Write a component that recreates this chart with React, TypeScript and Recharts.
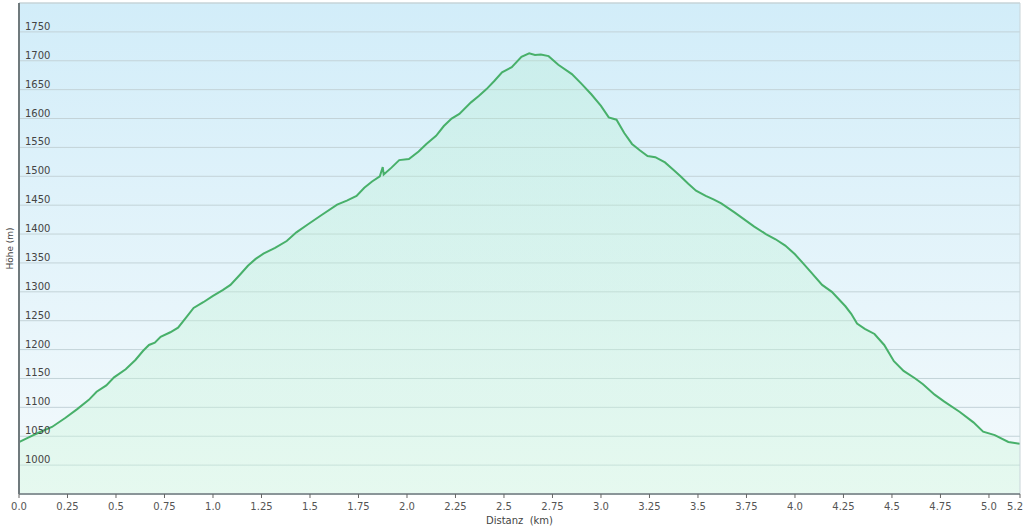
import { AreaChart, Area, XAxis, YAxis, CartesianGrid, ReferenceLine, Label } from 'recharts'

// distance (km) and altitude (m)
const distanceKm = [
  0.0, 0.05, 0.1, 0.17, 0.24, 0.3, 0.36, 0.4, 0.45, 0.49, 0.55, 0.6, 0.64, 0.67, 0.7, 0.73, 0.78, 0.82,
  0.86, 0.9, 0.95, 1.0, 1.05, 1.09, 1.14, 1.18, 1.22, 1.26, 1.32, 1.38, 1.43, 1.49, 1.56, 1.64, 1.69,
  1.74, 1.78, 1.82, 1.86, 1.875, 1.88, 1.92, 1.96, 2.01, 2.06, 2.1, 2.15, 2.19, 2.23, 2.27, 2.33, 2.37,
  2.41, 2.45, 2.49, 2.54, 2.59, 2.63, 2.66, 2.69, 2.73, 2.78, 2.85, 2.9, 2.95, 3.0, 3.04, 3.08, 3.12,
  3.16, 3.2, 3.24, 3.28, 3.33, 3.37, 3.41, 3.45, 3.49, 3.54, 3.58, 3.62, 3.69, 3.79, 3.85, 3.9, 3.95,
  4.0, 4.04, 4.08, 4.14, 4.19, 4.26, 4.29, 4.32, 4.36, 4.41, 4.46, 4.51, 4.56, 4.62, 4.66, 4.72, 4.77,
  4.85, 4.92, 4.97, 5.03, 5.1, 5.16,
]
const altitudeM = [
  1040, 1048, 1056, 1066, 1082, 1097, 1113, 1127, 1138, 1152, 1166, 1182, 1198, 1208, 1212, 1222, 1230, 1238,
  1255, 1272, 1282, 1293, 1303, 1312, 1330, 1345, 1357, 1366, 1376, 1388, 1403, 1417, 1433, 1451, 1458,
  1466, 1480, 1491, 1500, 1516, 1503, 1515, 1528, 1530, 1543, 1556, 1570, 1587, 1600, 1608, 1628, 1639,
  1651, 1665, 1680, 1689, 1707, 1713, 1710, 1711, 1708, 1693, 1677, 1660, 1642, 1622, 1602, 1598, 1575,
  1556, 1545, 1535, 1533, 1524, 1512, 1500, 1487, 1475, 1466, 1460, 1453, 1437, 1413, 1400, 1391, 1380,
  1365, 1350, 1335, 1312, 1300, 1275, 1262, 1245, 1236, 1227, 1208, 1180, 1163, 1150, 1140, 1122, 1110,
  1092, 1074, 1058, 1052, 1040, 1037,
]

const xTicks = [0, 0.25, 0.5, 0.75, 1, 1.25, 1.5, 1.75, 2, 2.25, 2.5, 2.75, 3, 3.25, 3.5, 3.75, 4, 4.25, 4.5, 4.75, 5, 5.16]
const xTickLabels = ['0.0', '0.25', '0.5', '0.75', '1.0', '1.25', '1.5', '1.75', '2.0', '2.25', '2.5', '2.75', '3.0', '3.25', '3.5', '3.75', '4.0', '4.25', '4.5', '4.75', '5.0', '5.2']
const yTicks = [1000, 1050, 1100, 1150, 1200, 1250, 1300, 1350, 1400, 1450, 1500, 1550, 1600, 1650, 1700, 1750]

const data = distanceKm.map((d, i) => ({ d, h: altitudeM[i] }))

const FONT = '"DejaVu Sans", Verdana, sans-serif'
const PLOT_LEFT = 19

function YTick({ y, payload }: any) {
  return (
    <text x={PLOT_LEFT + 6} y={y - 2} fontSize={10} fontFamily={FONT} fill="#444" textAnchor="start">
      {payload.value}
    </text>
  )
}

function XTick({ x, y, payload, index }: any) {
  const last = index === xTicks.length - 1
  return (
    <text
      x={last ? x + 3 : x}
      y={y + 10}
      fontSize={10}
      fontFamily={FONT}
      fill="#555"
      textAnchor={last ? 'end' : 'middle'}
    >
      {xTickLabels[xTicks.indexOf(payload.value)]}
    </text>
  )
}

export default function App() {
  return (
    <div style={{ position: 'fixed', left: 0, top: 0, background: '#fff' }}>
      <AreaChart width={1024} height={526} data={data} margin={{ top: 3, right: 4, bottom: 2, left: 0 }}>
        <defs>
          <linearGradient id="bgGrad" x1="0" y1="0" x2="0" y2="1">
            <stop offset="0%" stopColor="#d2edf9" />
            <stop offset="100%" stopColor="#f4fafc" />
          </linearGradient>
          <linearGradient id="areaGrad" x1="0" y1="0" x2="0" y2="1">
            <stop offset="0%" stopColor="#b0eecb" stopOpacity={0.28} />
            <stop offset="100%" stopColor="#d0f7dc" stopOpacity={0.4} />
          </linearGradient>
        </defs>
        <CartesianGrid fill="url(#bgGrad)" fillOpacity={1} vertical={false} stroke="#c3d3d8" strokeWidth={1} />
        <XAxis
          type="number"
          dataKey="d"
          domain={[0, 5.16]}
          ticks={xTicks}
          interval={0}
          height={30}
          tick={<XTick />}
          tickSize={4}
          tickLine={{ stroke: '#666' }}
          axisLine={{ stroke: '#8a9598', strokeWidth: 2 }}
          allowDataOverflow
        >
          <Label
            value={'Distanz\u00a0 (km)'}
            position="insideBottom"
            offset={0}
            style={{ fontSize: 10, fontFamily: FONT, fill: '#444' }}
          />
        </XAxis>
        <YAxis
          type="number"
          domain={[950, 1800]}
          ticks={yTicks}
          interval={0}
          width={PLOT_LEFT}
          tick={<YTick />}
          tickLine={false}
          axisLine={{ stroke: '#707a7d', strokeWidth: 2 }}
          allowDataOverflow
        >
          <Label
            value="Höhe (m)"
            angle={-90}
            position="insideLeft"
            offset={10}
            style={{ fontSize: 9, fontFamily: FONT, fill: '#444', textAnchor: 'middle' }}
          />
        </YAxis>
        <ReferenceLine y={1800} stroke="#c8d4d8" />
        <ReferenceLine x={5.16} stroke="#c8d4d8" />
        <Area
          type="linear"
          dataKey="h"
          baseValue={950}
          stroke="#48b06a"
          strokeWidth={2}
          fill="url(#areaGrad)"
          fillOpacity={1}
          dot={false}
          isAnimationActive={false}
        />
      </AreaChart>
    </div>
  )
}
